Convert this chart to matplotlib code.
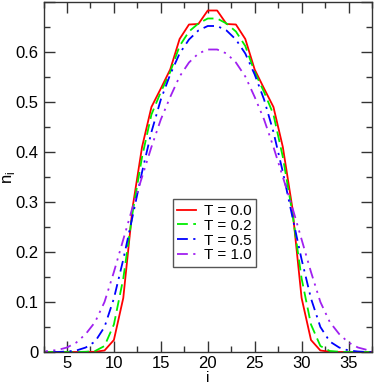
import matplotlib
matplotlib.use("Agg")
import matplotlib.pyplot as plt
from matplotlib.ticker import MultipleLocator, FuncFormatter
import numpy as np

plt.rcParams['font.family'] = ['Liberation Sans', 'DejaVu Sans']

# Site index (1..40), profile symmetric about 20.5
sites = list(range(1, 41))

# half profiles, i = 1..20
half_T00 = [0, 0, 0, 0, 0, 0, 0, 0.0005, 0.003, 0.024, 0.108, 0.29, 0.41, 0.49,
            0.527, 0.565, 0.626, 0.655, 0.656, 0.683]
half_T02 = [0, 0, 0, 0, 0, 0, 0.0005, 0.002, 0.012, 0.055, 0.147, 0.28, 0.39, 0.475,
            0.52, 0.56, 0.612, 0.641, 0.657, 0.667]
half_T05 = [0, 0, 0, 0, 0.001, 0.003, 0.009, 0.021, 0.05, 0.107, 0.185, 0.272, 0.36, 0.44,
            0.505, 0.555, 0.597, 0.625, 0.643, 0.652]
half_T10 = [0.001, 0.001, 0.002, 0.004, 0.009, 0.019, 0.036, 0.06, 0.10, 0.16, 0.225, 0.29,
            0.35, 0.41, 0.465, 0.51, 0.551, 0.579, 0.597, 0.605]

n_T00 = half_T00 + half_T00[::-1]
n_T02 = half_T02 + half_T02[::-1]
n_T05 = half_T05 + half_T05[::-1]
n_T10 = half_T10 + half_T10[::-1]

labels = ["T = 0.0", "T = 0.2", "T = 0.5", "T = 1.0"]
series = [n_T00, n_T02, n_T05, n_T10]
colors = ["#ff0000", "#00ee00", "#0000ff", "#a020f0"]
styles = ["-", (0, (6, 3)), (0, (6, 3, 1.2, 3)), (0, (6, 3, 1.2, 3, 1.2, 3))]

fig = plt.figure(figsize=(3.74, 3.84), dpi=100)
ax = fig.add_axes([43.5/374, 1-352/384, (372-43.5)/374, 350/384])

for y, c, ls, lab in zip(series, colors, styles, labels):
    ax.plot(sites, y, color=c, linestyle=ls, linewidth=1.3, label=lab)

ax.set_xlim(2.5, 37.5)
ax.set_ylim(0, 0.7)
ax.xaxis.set_major_locator(MultipleLocator(5))
ax.xaxis.set_minor_locator(MultipleLocator(2.5))
ax.yaxis.set_major_locator(MultipleLocator(0.1))
ax.yaxis.set_minor_locator(MultipleLocator(0.05))


def yfmt(v, p):
    if abs(v) < 1e-9:
        return "0"
    if v > 0.65:
        return ""
    return f"{v:.1f}"


ax.yaxis.set_major_formatter(FuncFormatter(yfmt))
ax.tick_params(which='both', direction='in', top=True, right=True, labelsize=12)
ax.tick_params(which='major', length=8, width=1)
ax.tick_params(which='minor', length=4, width=1)
ax.tick_params(axis='x', which='major', pad=3)
for s in ax.spines.values():
    s.set_linewidth(1)
    s.set_color('#333333')
ax.tick_params(which='both', color='#333333', labelcolor='black')

ax.set_xlabel("i", fontsize=11, labelpad=0)
ax.set_ylabel("n$_\\mathregular{i}$", fontsize=12, labelpad=-1)

leg = ax.legend(loc='upper left', bbox_to_anchor=(0.393, 0.436), fontsize=11,
                frameon=True, fancybox=False, edgecolor='#555555', framealpha=1,
                handlelength=1.2, handletextpad=0.55, labelspacing=0.05,
                borderpad=0.3, borderaxespad=0)
leg.get_frame().set_linewidth(1)

fig.savefig("out.png", dpi=100)
